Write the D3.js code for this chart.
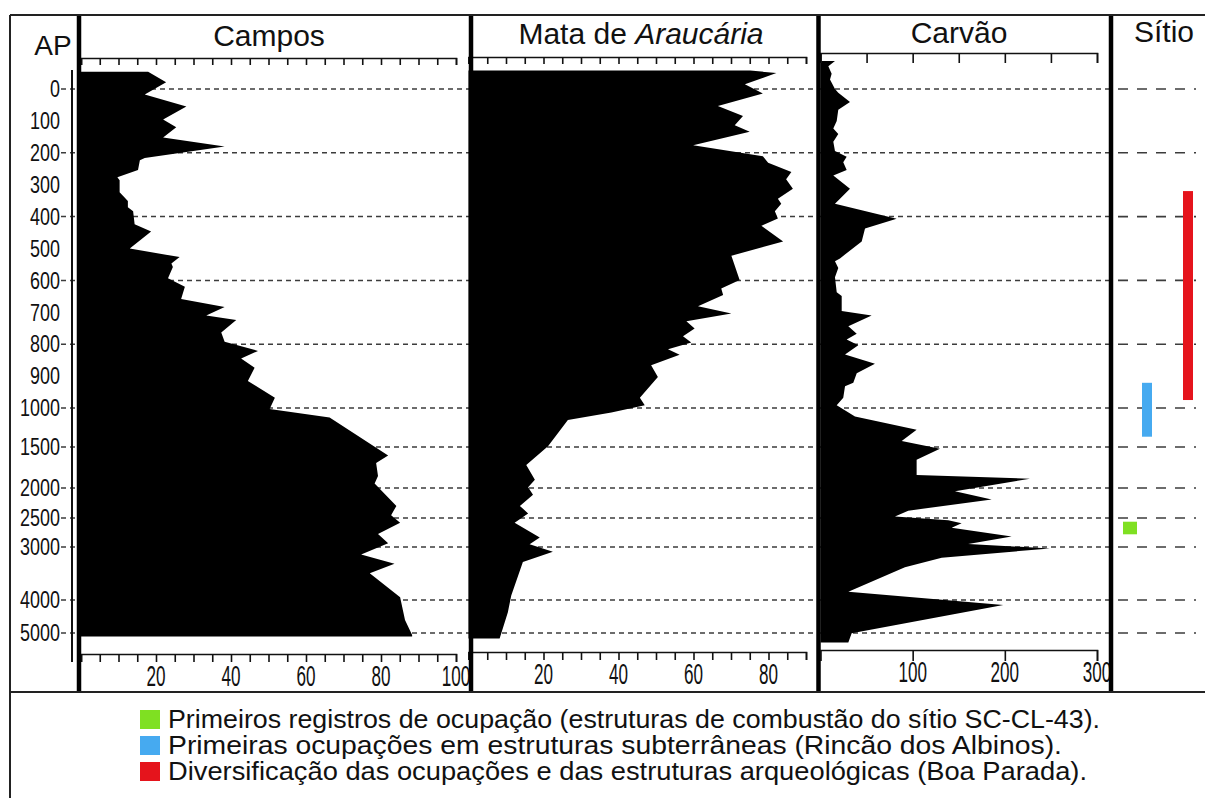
<!DOCTYPE html>
<html>
  <head>
    <meta charset="utf-8" />
    <script src="https://d3js.org/d3.v7.min.js"></script>
    <style>
      html,
      body {
        margin: 0;
        padding: 0;
        background: #fff;
      }
      svg {
        display: block;
        font-family: "Liberation Sans", Arial, sans-serif;
      }
    </style>
  </head>
  <body>
    <div id="chart"></div>
    <script>
      const W = 1205;
      const H = 798;

      // age (years AP) of the labelled ticks on the depth axis
      const ageLabels = [0, 100, 200, 300, 400, 500, 600, 700, 800, 900, 1000, 1500, 2000, 2500, 3000, 4000, 5000];
      const gridAges = [0, 200, 400, 600, 800, 1000, 1500, 2000, 2500, 3000, 4000, 5000];

      // [age AP, percentage / count]
      const campos = [
        [-54, 17.9], [-21, 22.7], [17, 17.0], [55, 28.1], [96, 21.9], [120, 25.4],
        [152, 21.9], [180, 38.3], [216, 17.0], [223, 15.7], [254, 15.2], [277, 9.7],
        [286, 10.3], [324, 10.3], [351, 12.5], [371, 12.5], [383, 13.9], [424, 14.3],
        [447, 18.7], [500, 13.0], [527, 26.3], [547, 24.1], [558, 24.5], [593, 23.2],
        [620, 27.7], [658, 26.7], [683, 38.3], [710, 33.4], [724, 41.4], [763, 37.4],
        [792, 38.3], [821, 47.2], [845, 42.7], [874, 46.3], [915, 44.5], [968, 51.7],
        [1012, 50.3], [1122, 66.3], [1604, 81.9], [1695, 78.7], [1854, 79.2], [1945, 78.3],
        [2298, 84.1], [2453, 82.7], [2581, 85.1], [2774, 79.2], [2934, 81.9], [3140, 74.7],
        [3315, 83.6], [3493, 77.0], [3949, 85.1], [4606, 86.4], [5061, 88.3], [5106, 88.3]
      ];

      const mata = [
        [-58, 75.1], [-50, 82.1], [-15, 73.7], [14, 78.5], [53, 66.5], [85, 73.2],
        [114, 71.0], [134, 75.0], [176, 59.9], [211, 78.5], [231, 79.9], [260, 86.1],
        [283, 84.7], [313, 86.5], [344, 82.5], [360, 83.4], [383, 81.7], [406, 82.5],
        [429, 78.1], [478, 83.9], [523, 70.1], [599, 72.3], [625, 67.4], [646, 67.9],
        [681, 61.2], [704, 70.1], [728, 58.1], [751, 60.3], [775, 57.2], [795, 59.4],
        [816, 53.2], [833, 56.3], [866, 48.7], [903, 50.5], [968, 45.7], [991, 47.0],
        [1059, 38.1], [1155, 26.5], [1490, 21.2], [1718, 15.4], [1900, 17.7], [1990, 15.9],
        [2112, 17.2], [2298, 13.7], [2423, 15.9], [2581, 12.3], [2838, 19.0], [2953, 16.3],
        [3091, 22.5], [3281, 14.5], [3913, 11.4], [4370, 10.5], [5164, 8.3]
      ];

      const carvao = [
        [-88, 15.7], [-71, 8.5], [-48, 12.1], [-30, 10.3], [0, 15.7], [12, 19.3],
        [41, 32.0], [65, 19.3], [100, 17.6], [124, 13.9], [141, 19.3], [165, 13.9],
        [194, 15.7], [212, 28.4], [230, 24.7], [254, 28.4], [271, 13.9], [313, 32.0],
        [360, 15.7], [407, 82.6], [437, 48.3], [478, 44.7], [531, 21.1], [540, 15.7],
        [561, 19.3], [590, 15.7], [637, 17.6], [649, 23.0], [696, 23.0], [710, 55.5],
        [744, 30.2], [767, 39.3], [785, 28.4], [803, 41.0], [832, 26.6], [861, 59.1],
        [891, 39.3], [921, 35.6], [932, 26.6], [968, 24.7], [991, 17.6], [1110, 37.4],
        [1279, 104.3], [1424, 88.1], [1520, 129.6], [1657, 104.3], [1842, 104.3], [1887, 227.2],
        [2053, 145.9], [2190, 185.7], [2378, 95.2], [2473, 80.8], [2538, 138.6], [2590, 153.1],
        [2667, 142.3], [2817, 207.4], [2947, 160.3], [3026, 248.9], [3204, 131.5], [3381, 91.6],
        [3844, 30.2], [4148, 198.3], [5006, 33.8], [5290, 30.2]
      ];

      // occupation periods at the site: [start age, end age]
      const siteKeys = ["green", "blue", "red"];
      const sitePeriods = [
        [2564, 2781],
        [921, 1368],
        [320, 975]
      ];
      const siteColors = ["#7fe022", "#46aaf0", "#e5141c"];
      const legendLabels = [
        "Primeiros registros de ocupação (estruturas de combustão do sítio SC-CL-43).",
        "Primeiras ocupações em estruturas subterrâneas (Rincão dos Albinos).",
        "Diversificação das ocupações e das estruturas arqueológicas (Boa Parada)."
      ];
      const legendWidths = [932, 894, 919];

      const svg = d3
        .select("#chart")
        .append("svg")
        .attr("width", W)
        .attr("height", H);

      svg.append("rect").attr("width", W).attr("height", H).attr("fill", "#fff");

      // non-linear age axis (compressed below 1000 AP)
      const y = d3
        .scaleLinear()
        .domain([0, 1000, 1500, 2000, 2500, 3000, 4000, 5000])
        .range([89, 408, 447, 488, 518, 547, 600, 633]);

      //dashed reference lines
      const grid = svg.append("g");
      grid
        .selectAll("line.main")
        .data(gridAges)
        .enter()
        .append("line")
        .attr("x1", 61)
        .attr("x2", 1112)
        .attr("y1", (d) => y(d))
        .attr("y2", (d) => y(d))
        .attr("stroke", "#3c3c3c")
        .attr("stroke-width", 1.5)
        .attr("stroke-dasharray", "5,4");
      grid
        .selectAll("line.site")
        .data(gridAges)
        .enter()
        .append("line")
        .attr("x1", 1118)
        .attr("x2", 1196)
        .attr("y1", (d) => y(d))
        .attr("y2", (d) => y(d))
        .attr("stroke", "#3c3c3c")
        .attr("stroke-width", 1.6)
        .attr("stroke-dasharray", "10,9");

      const panels = [
        {
          title: "Campos", data: campos, domain: [0, 100], range: [81, 456],
          topY: 58, botY: 654, labelY: 686, titleX: 269, titleY: 46,
          topTicks: d3.range(0, 101, 5), botTicks: d3.range(0, 101, 5),
          labels: [20, 40, 60, 80, 100], tick: 7
        },
        {
          title: "Mata de ", italic: "Araucária", data: mata, domain: [0, 90], range: [468.5, 806],
          topY: 57, botY: 652, labelY: 684, titleX: 641, titleY: 44,
          topTicks: d3.range(0, 91, 5), botTicks: d3.range(0, 91, 5),
          labels: [20, 40, 60, 80], tick: 7
        },
        {
          title: "Carvão", data: carvao, domain: [0, 300], range: [820.5, 1097],
          topY: 53, botY: 650, labelY: 682, titleX: 959, titleY: 43,
          topTicks: d3.range(0, 301, 50), botTicks: [100, 200, 300],
          labels: [100, 200, 300], tick: 10
        }
      ];

      panels.forEach((p) => {
        const x = d3.scaleLinear().domain(p.domain).range(p.range);
        const g = svg.append("g");

        const area = d3
          .area()
          .y((d) => y(d[0]))
          .x0(x(0))
          .x1((d) => x(d[1]));

        g.append("path").datum(p.data).attr("d", area).attr("fill", "#000");

        const top = g
          .append("g")
          .attr("transform", `translate(0,${p.topY})`)
          .call(d3.axisBottom(x).tickValues(p.topTicks).tickSize(p.tick).tickFormat(""));
        const bot = g
          .append("g")
          .attr("transform", `translate(0,${p.botY})`)
          .call(d3.axisBottom(x).tickValues(p.botTicks).tickSize(p.tick + 1).tickFormat(""));
        [top, bot].forEach((a) => {
          a.select(".domain").attr("stroke", "#111").attr("stroke-width", 1.6);
          a.selectAll(".tick line").attr("stroke", "#111").attr("stroke-width", 1.6);
        });

        // condensed tick labels
        g.selectAll("g.lab")
          .data(p.labels)
          .enter()
          .append("g")
          .attr("transform", (d) => `translate(${x(d)},${p.labelY})`)
          .append("text")
          .attr("transform", "scale(0.57,1)")
          .attr("text-anchor", "middle")
          .attr("font-size", 30)
          .attr("fill", "#111")
          .text((d) => d);

        const t = g
          .append("text")
          .attr("x", p.titleX)
          .attr("y", p.titleY)
          .attr("text-anchor", "middle")
          .attr("font-size", 30)
          .attr("fill", "#111")
          .text(p.title);
        if (p.italic) t.append("tspan").attr("font-style", "italic").text(p.italic);
      });

      // site occupation bars
      const siteX = d3.scaleOrdinal().domain(siteKeys).range([1123, 1142, 1183]);
      const siteW = d3.scaleOrdinal().domain(siteKeys).range([14, 10, 10]);
      svg
        .selectAll("rect.site")
        .data(sitePeriods)
        .enter()
        .append("rect")
        .attr("x", (d, i) => siteX(siteKeys[i]))
        .attr("width", (d, i) => siteW(siteKeys[i]))
        .attr("y", (d) => y(d[0]))
        .attr("height", (d) => y(d[1]) - y(d[0]))
        .attr("fill", (d, i) => siteColors[i]);

      svg
        .append("text")
        .attr("x", 1164)
        .attr("y", 42)
        .attr("text-anchor", "middle")
        .attr("font-size", 30)
        .attr("fill", "#111")
        .text("Sítio");

      // age axis
      svg
        .append("line")
        .attr("x1", 72)
        .attr("x2", 72)
        .attr("y1", 70)
        .attr("y2", 662)
        .attr("stroke", "#111")
        .attr("stroke-width", 2);
      svg
        .selectAll("g.age")
        .data(ageLabels)
        .enter()
        .append("g")
        .attr("transform", (d) => `translate(60,${y(d)})`)
        .append("text")
        .attr("transform", "scale(0.78,1)")
        .attr("dy", "0.36em")
        .attr("text-anchor", "end")
        .attr("font-size", 23)
        .attr("fill", "#111")
        .text((d) => d);
      svg
        .append("text")
        .attr("x", 53)
        .attr("y", 55)
        .attr("text-anchor", "middle")
        .attr("font-size", 28)
        .attr("fill", "#111")
        .text("AP");

      //thick panel separators
      svg
        .selectAll("line.sep")
        .data([79, 471, 818.5, 1111])
        .enter()
        .append("line")
        .attr("x1", (d) => d)
        .attr("x2", (d) => d)
        .attr("y1", 15)
        .attr("y2", 692)
        .attr("stroke", "#000")
        .attr("stroke-width", 4.5);

      //frame
      const frame = svg.append("g").attr("stroke", "#222").attr("stroke-width", 2);
      frame.append("line").attr("x1", 10).attr("x2", W).attr("y1", 15).attr("y2", 15);
      frame.append("line").attr("x1", 10).attr("x2", W).attr("y1", 692).attr("y2", 692);
      frame.append("line").attr("x1", 10).attr("x2", 10).attr("y1", 15).attr("y2", H);

      // legend
      const legend = svg
        .selectAll("g.legend")
        .data(legendLabels)
        .enter()
        .append("g")
        .attr("transform", (d, i) => `translate(140,${719 + i * 26})`);
      legend
        .append("rect")
        .attr("x", 0)
        .attr("y", -9)
        .attr("width", 20)
        .attr("height", 19)
        .attr("fill", (d, i) => siteColors[i]);
      legend
        .append("text")
        .attr("x", 28)
        .attr("dy", "0.36em")
        .attr("font-size", 25)
        .attr("textLength", (d, i) => legendWidths[i])
        .attr("lengthAdjust", "spacingAndGlyphs")
        .attr("fill", "#111")
        .text((d) => d);
    </script>
  </body>
</html>
